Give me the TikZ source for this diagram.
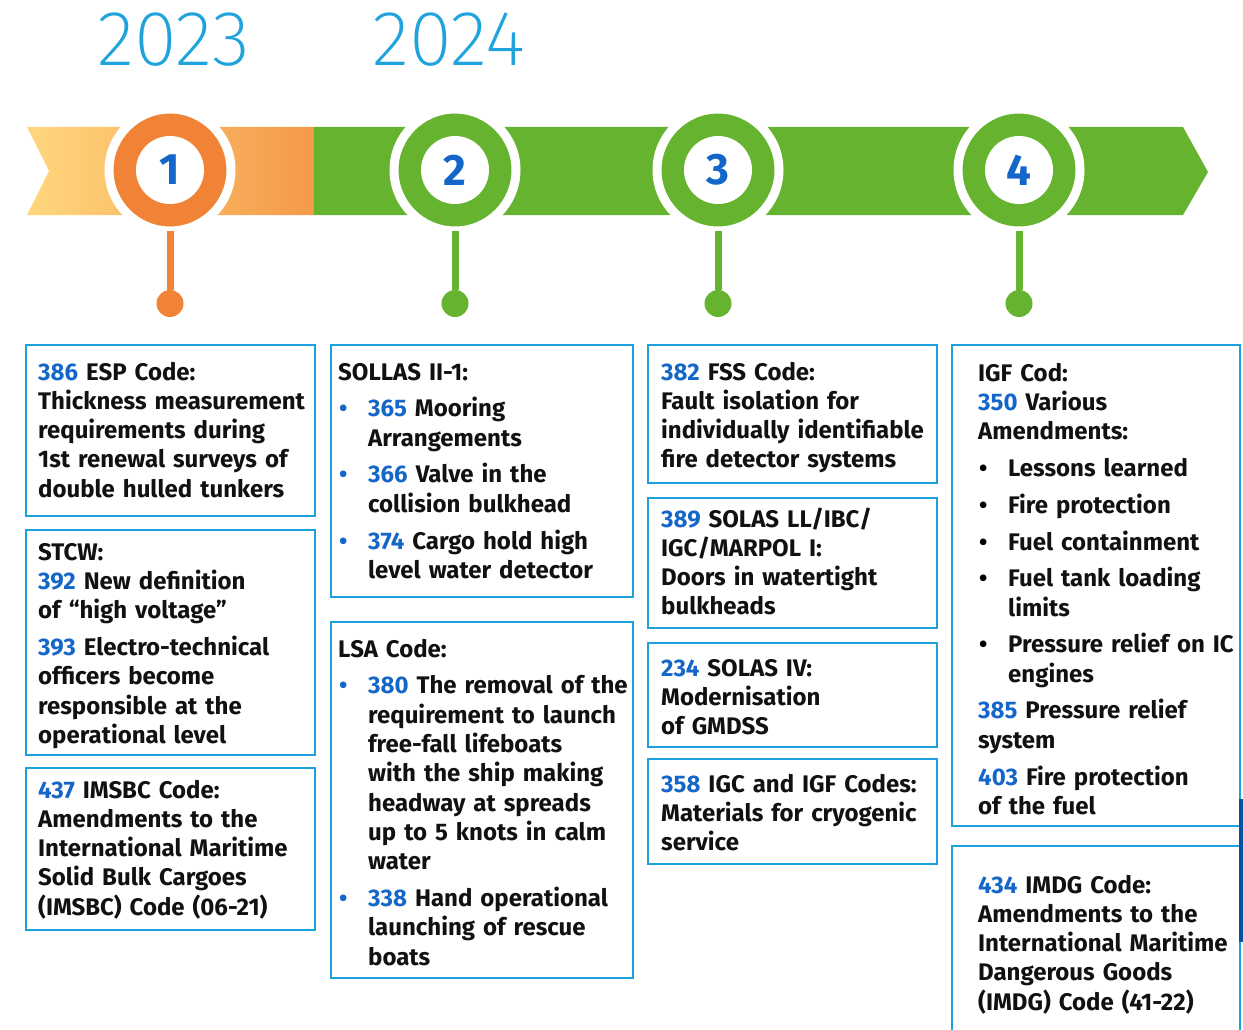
\documentclass[tikz,border=0pt]{standalone}
\usepackage{fontspec}
\setmainfont{Fira Sans}
\newfontfamily\yearfont{Fira Sans ExtraLight}
\usepackage{tikz}

\definecolor{numblue}{RGB}{20,102,201}
\definecolor{framecyan}{RGB}{26,160,220}
\definecolor{yearcyan}{RGB}{31,163,221}
\definecolor{bannergreen}{RGB}{101,179,46}
\definecolor{ringorange}{RGB}{240,131,54}
\definecolor{bannerlight}{RGB}{255,215,125}
\definecolor{bannerorange}{RGB}{244,153,74}
\definecolor{barblue}{RGB}{10,79,160}
\definecolor{textblack}{RGB}{17,17,17}

\begin{document}
\begin{tikzpicture}[x=1pt, y=-1pt,
  frame/.style={draw=framecyan, line width=2.6pt, anchor=north west, inner sep=0pt, outer sep=0pt},
  txt/.style={anchor=base west, inner sep=0pt, text width=330pt, align=left, text=textblack,
    font=\fontsize{24}{29.3}\selectfont\bfseries},
  ring/.style={circle, draw=white, line width=9pt, minimum size=122pt, inner sep=0pt, outer sep=0pt},
  hub/.style={circle, fill=white, minimum size=68pt, inner sep=0pt, text=numblue,
    font=\fontsize{44}{44}\selectfont\bfseries},
  pin/.style={circle, minimum size=27pt, inner sep=0pt},
  stem/.style={line width=7pt},
  year/.style={anchor=base, text=yearcyan, font=\fontsize{78}{78}\selectfont\yearfont}]

\def\nr#1{\textcolor{numblue}{#1}}
\def\blt#1{\par\vspace{7.5pt}\hangindent=30pt\hangafter=1\noindent\makebox[30pt][l]{\hspace{1pt}\textcolor{#1}{\textbullet}}}
\def\gap{\par\vspace{7.5pt}\noindent}

\useasboundingbox (0,0) rectangle (1243,1030);
\clip (0,0) rectangle (1243,1030);

% years
\node[year] (y2023) at (173.5,65.7) {2023};
\node[year] (y2024) at (449,65.7) {2024};

% banner
\shade[left color=bannerlight, right color=bannerorange] (27,127) -- (314,127) -- (314,215) -- (27,215) -- (49,171) -- cycle;
\fill[bannergreen] (314,127) -- (1183,127) -- (1208,172) -- (1183,215) -- (314,215) -- cycle;

% milestones
\node[ring, fill=ringorange] (ring1) at (170,170) {};
\node[hub] (hub1) at (ring1) {1};
\node[pin, fill=ringorange] (pin1) at (170,303.5) {};
\draw[stem, ringorange] (ring1.south) -- (pin1);

\node[ring, fill=bannergreen] (ring2) at (455,170) {};
\node[hub] (hub2) at (ring2) {2};
\node[pin, fill=bannergreen] (pin2) at (455,303.5) {};
\draw[stem, bannergreen] (ring2.south) -- (pin2);

\node[ring, fill=bannergreen] (ring3) at (718,170) {};
\node[hub] (hub3) at (ring3) {3};
\node[pin, fill=bannergreen] (pin3) at (718,303.5) {};
\draw[stem, bannergreen] (ring3.south) -- (pin3);

\node[ring, fill=bannergreen] (ring4) at (1019,170) {};
\node[hub] (hub4) at (ring4) {4};
\node[pin, fill=bannergreen] (pin4) at (1019,303.5) {};
\draw[stem, bannergreen] (ring4.south) -- (pin4);

% column 1
\node[frame, minimum width=289, minimum height=171] (espbox) at (26,345) {};
\node[txt] (esp) at (38,380) {\nr{386} ESP Code:\\Thickness measurement\\requirements during\\1st renewal surveys of\\double hulled tunkers};

\node[frame, minimum width=289, minimum height=225] (stcwbox) at (26,530) {};
\node[txt] (stcw) at (38,560) {STCW:\\\nr{392} New definition\\of “high voltage”\gap\nr{393} Electro-technical\\officers become\\responsible at the\\operational level};

\node[frame, minimum width=289, minimum height=162] (imsbcbox) at (26,768) {};
\node[txt] (imsbc) at (38,798) {\nr{437} IMSBC Code:\\Amendments to the\\International Maritime\\Solid Bulk Cargoes\\(IMSBC) Code (06-21)};

% column 2
\node[frame, minimum width=302, minimum height=252] (sollasbox) at (331,345) {};
\node[txt] (sollas) at (338,380) {SOLLAS II-1:\blt{numblue}\nr{365} Mooring\newline Arrangements\blt{numblue}\nr{366} Valve in the\newline collision bulkhead\blt{numblue}\nr{374} Cargo hold high\newline level water detector\par};

\node[frame, minimum width=302, minimum height=356] (lsabox) at (331,622) {};
\node[txt] (lsa) at (338,657) {LSA Code:\blt{numblue}\nr{380} The removal of the\newline requirement to launch\newline free-fall lifeboats\newline with the ship making\newline headway at spreads\newline up to 5 knots in calm\newline water\blt{numblue}\nr{338} Hand operational\newline launching of rescue\newline boats\par};

% column 3
\node[frame, minimum width=289, minimum height=138] (fssbox) at (648,345) {};
\node[txt] (fss) at (661,380) {\nr{382} FSS Code:\\Fault isolation for\\individually identifiable\\fire detector systems};

\node[frame, minimum width=289, minimum height=130] (doorbox) at (648,498) {};
\node[txt] (door) at (661,527) {\nr{389} SOLAS LL/IBC/\\IGC/MARPOL I:\\Doors in watertight\\bulkheads};

\node[frame, minimum width=289, minimum height=104] (gmdssbox) at (648,643) {};
\node[txt] (gmdss) at (661,676) {\nr{234} SOLAS IV:\\Modernisation\\of GMDSS};

\node[frame, minimum width=289, minimum height=105] (cryobox) at (648,759) {};
\node[txt] (cryo) at (661,792) {\nr{358} IGC and IGF Codes:\\Materials for cryogenic\\service};

% column 4
\node[frame, minimum width=288, minimum height=481] (igfbox) at (952,345) {};
\node[txt] (igf) at (978,381) {IGF Cod:\\\nr{350} Various\\Amendments:\blt{black}Lessons learned\blt{black}Fire protection\blt{black}Fuel containment\blt{black}Fuel tank loading\newline limits\blt{black}Pressure relief on IC\newline engines\gap\nr{385} Pressure relief\\system\gap\nr{403} Fire protection\\of the fuel};

\node[frame, minimum width=288, minimum height=200] (imdgbox) at (952,846) {};
\node[txt] (imdg) at (978,893) {\nr{434} IMDG Code:\\Amendments to the\\International Maritime\\Dangerous Goods\\(IMDG) Code (41-22)};

\fill[barblue] (1239,799) rectangle (1243,942);

\end{tikzpicture}
\end{document}
